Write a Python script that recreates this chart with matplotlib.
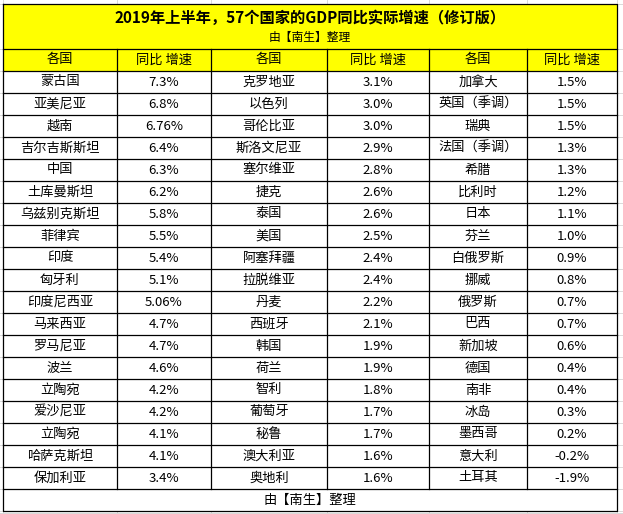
import matplotlib
matplotlib.use("Agg")
import matplotlib.pyplot as plt
from matplotlib.patches import Rectangle

plt.rcParams['font.family'] = ['Noto Sans CJK SC', 'DejaVu Sans']

# ---- data ----
TITLE = "2019年上半年，57个国家的GDP同比实际增速（修订版）"
CREDIT = "由【南生】整理"
HEADERS = ["各国", "同比 增速"] * 3

names_a = ["蒙古国", "亚美尼亚", "越南", "吉尔吉斯斯坦", "中国", "土库曼斯坦", "乌兹别克斯坦",
           "菲律宾", "印度", "匈牙利", "印度尼西亚", "马来西亚", "罗马尼亚", "波兰", "立陶宛",
           "爱沙尼亚", "立陶宛", "哈萨克斯坦", "保加利亚"]
growth_a = [7.3, 6.8, 6.76, 6.4, 6.3, 6.2, 5.8, 5.5, 5.4, 5.1, 5.06, 4.7, 4.7, 4.6, 4.2,
            4.2, 4.1, 4.1, 3.4]

names_b = ["克罗地亚", "以色列", "哥伦比亚", "斯洛文尼亚", "塞尔维亚", "捷克", "泰国", "美国",
           "阿塞拜疆", "拉脱维亚", "丹麦", "西班牙", "韩国", "荷兰", "智利", "葡萄牙", "秘鲁",
           "澳大利亚", "奥地利"]
growth_b = [3.1, 3.0, 3.0, 2.9, 2.8, 2.6, 2.6, 2.5, 2.4, 2.4, 2.2, 2.1, 1.9, 1.9, 1.8,
            1.7, 1.7, 1.6, 1.6]

names_c = ["加拿大", "英国（季调）", "瑞典", "法国（季调）", "希腊", "比利时", "日本", "芬兰",
           "白俄罗斯", "挪威", "俄罗斯", "巴西", "新加坡", "德国", "南非", "冰岛", "墨西哥",
           "意大利", "土耳其"]
growth_c = [1.5, 1.5, 1.5, 1.3, 1.3, 1.2, 1.1, 1.0, 0.9, 0.8, 0.7, 0.7, 0.6, 0.4, 0.4,
            0.3, 0.2, -0.2, -1.9]


def pct(v):
    s = "%.2f" % v
    if s.endswith("0"):
        s = s[:-1]
    return s + "%"


# ---- layout (pixels) ----
W, H = 623, 514
COL_X = [3, 117, 211, 327, 429, 527, 617]
TOP, HEAD_TOP, BODY_TOP, ROW_H = 4, 49, 71, 22
N_ROWS = len(names_a)
FOOT_TOP = BODY_TOP + N_ROWS * ROW_H
BOTTOM = FOOT_TOP + 22
YELLOW = "#ffff00"
LW = 0.9

fig = plt.figure(figsize=(W / 100, H / 100), dpi=100)
ax = fig.add_axes([0, 0, 1, 1])
ax.set_xlim(0, W)
ax.set_ylim(H, 0)
ax.axis("off")

# faint spreadsheet grid behind the table
for x in COL_X:
    ax.plot([x, x], [0, H], color="#d9d9d9", lw=0.7, zorder=0)
for y in [TOP, HEAD_TOP] + [BODY_TOP + i * ROW_H for i in range(N_ROWS + 1)] + [BOTTOM, BOTTOM + 2]:
    ax.plot([0, W], [y, y], color="#d9d9d9", lw=0.7, zorder=0)

# fills
ax.add_patch(Rectangle((COL_X[0], TOP), COL_X[-1] - COL_X[0], BODY_TOP - TOP,
                       facecolor=YELLOW, edgecolor="none", zorder=1))
ax.add_patch(Rectangle((COL_X[0], BODY_TOP), COL_X[-1] - COL_X[0], BOTTOM - BODY_TOP,
                       facecolor="white", edgecolor="none", zorder=1))

# borders
ax.plot([COL_X[0], COL_X[-1], COL_X[-1], COL_X[0], COL_X[0]],
        [TOP, TOP, BOTTOM, BOTTOM, TOP], color="black", lw=LW, zorder=3)
for y in [HEAD_TOP] + [BODY_TOP + i * ROW_H for i in range(N_ROWS + 1)]:
    ax.plot([COL_X[0], COL_X[-1]], [y, y], color="black", lw=LW, zorder=3)
for x in COL_X[1:-1]:
    ax.plot([x, x], [HEAD_TOP, FOOT_TOP], color="black", lw=LW, zorder=3)

mid = (COL_X[0] + COL_X[-1]) / 2
ax.text(mid, 18, TITLE, ha="center", va="center", fontsize=11, fontweight="bold", zorder=4)
ax.text(mid, 37, CREDIT, ha="center", va="center", fontsize=8.5, zorder=4)

centers = [(COL_X[i] + COL_X[i + 1]) / 2 for i in range(6)]
for cx, h in zip(centers, HEADERS):
    ax.text(cx, (HEAD_TOP + BODY_TOP) / 2, h, ha="center", va="center", fontsize=9.5, zorder=4)

columns = [names_a, [pct(v) for v in growth_a],
           names_b, [pct(v) for v in growth_b],
           names_c, [pct(v) for v in growth_c]]
for cx, col in zip(centers, columns):
    for i, s in enumerate(col):
        ax.text(cx, BODY_TOP + i * ROW_H + ROW_H / 2, s, ha="center", va="center",
                fontsize=9.5, zorder=4)

ax.text(mid, (FOOT_TOP + BOTTOM) / 2, CREDIT, ha="center", va="center", fontsize=9.5, zorder=4)

fig.savefig("out.png", dpi=100)
